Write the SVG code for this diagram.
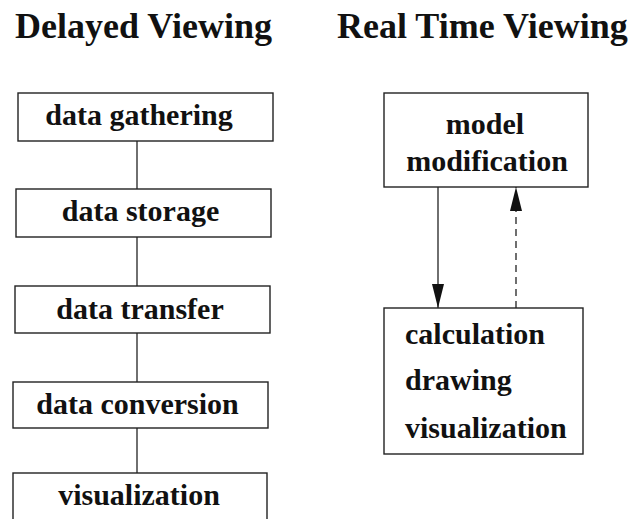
<svg xmlns="http://www.w3.org/2000/svg" width="641" height="519" viewBox="0 0 641 519">
<style>
.t{font-family:"Liberation Serif","Times New Roman",serif;font-weight:bold;fill:#111}
.h{font-size:36px}
.b{font-size:30px}
.box{fill:#fff;stroke:#222;stroke-width:1.4}
.ln{stroke:#222;stroke-width:1.3;fill:none}
</style>
<defs>
<marker id="ah" viewBox="0 0 24 12" refX="24" refY="6" markerWidth="24" markerHeight="12" markerUnits="userSpaceOnUse" orient="auto">
<path d="M0,0 L24,6 L0,12 Z" fill="#111"/>
</marker>
</defs>
<rect width="641" height="519" fill="#fff"/>
<text class="t h" x="15" y="38">Delayed Viewing</text>
<text class="t h" x="337" y="38">Real Time Viewing</text>
<g id="connectors">
<line class="ln" x1="137" y1="141" x2="137" y2="189"/>
<line class="ln" x1="137" y1="237" x2="137" y2="286"/>
<line class="ln" x1="137" y1="333" x2="137" y2="382"/>
<line class="ln" x1="137" y1="428" x2="137" y2="473"/>
<line class="ln" x1="438" y1="187" x2="438" y2="308" marker-end="url(#ah)"/>
<line class="ln" x1="516" y1="308" x2="516" y2="187" stroke-dasharray="7,5" marker-end="url(#ah)"/>
</g>
<g id="n1"><rect class="box" x="18" y="93" width="255" height="48"/><text class="t b" x="139" y="125" text-anchor="middle">data gathering</text></g>
<g id="n2"><rect class="box" x="16" y="189" width="255" height="48"/><text class="t b" x="140.5" y="221" text-anchor="middle">data storage</text></g>
<g id="n3"><rect class="box" x="15" y="286" width="255" height="47"/><text class="t b" x="140" y="319" text-anchor="middle">data transfer</text></g>
<g id="n4"><rect class="box" x="13" y="382" width="255" height="46"/><text class="t b" x="137.5" y="414" text-anchor="middle">data conversion</text></g>
<g id="n5"><rect class="box" x="13" y="473" width="254" height="60"/><text class="t b" x="139" y="505" text-anchor="middle">visualization</text></g>
<g id="n6"><rect class="box" x="384" y="93" width="204" height="94"/><text class="t b" x="485" y="134" text-anchor="middle">model</text><text class="t b" x="487" y="171" text-anchor="middle">modification</text></g>
<g id="n7"><rect class="box" x="384" y="308" width="199" height="146"/><text class="t b" x="405" y="344">calculation</text><text class="t b" x="405" y="390">drawing</text><text class="t b" x="405" y="438">visualization</text></g>
</svg>
